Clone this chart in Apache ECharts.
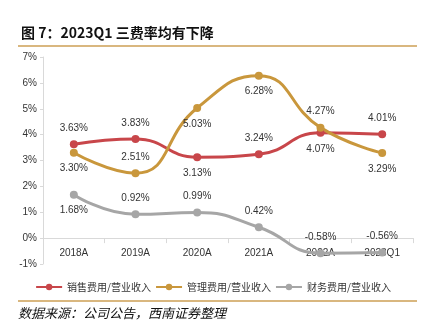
<!DOCTYPE html>
<html>
<head>
<meta charset="utf-8">
<script src="https://cdn.jsdelivr.net/npm/echarts@6/dist/echarts.min.js"></script>
<style>
  html, body { margin: 0; padding: 0; background: #fff; }
  #chart { width: 426px; height: 330px; }
</style>
</head>
<body>
<div id="chart"></div>
<script>
// Categories and expense ratios (%)
const categories = ['2018A', '2019A', '2020A', '2021A', '2022A', '2023Q1'];
const sellingRatio = [3.63, 3.83, 3.13, 3.24, 4.07, 4.01];
const adminRatio = [3.30, 2.51, 5.03, 6.28, 4.27, 3.29];
const financeRatio = [1.68, 0.92, 0.99, 0.42, -0.58, -0.56];
const seriesNames = ['销售费用/营业收入', '管理费用/营业收入', '财务费用/营业收入'];

// Label placement per point
const sellingPos = ['top', 'top', 'bottom', 'top', 'bottom', 'top'];
const adminPos = ['bottom', 'top', 'bottom', 'bottom', 'top', 'bottom'];
const financePos = ['bottom', 'top', 'top', 'top', 'top', 'top'];

const font = '"Liberation Sans", Arial, sans-serif';
const cjk = '"Noto Sans CJK SC", sans-serif';

function withLabels(values, positions) {
  return values.map((v, i) => ({
    value: v,
    label: { position: positions[i] }
  }));
}

function lineSeries(name, values, positions, color) {
  return {
    name: name,
    type: 'line',
    smooth: 0.5,
    symbol: 'circle',
    symbolSize: 8,
    data: withLabels(values, positions),
    lineStyle: { color: color, width: 3 },
    itemStyle: { color: color },
    label: {
      show: true,
      color: '#333',
      fontSize: 10,
      fontFamily: font,
      distance: 7,
      formatter: p => p.value.toFixed(2) + '%'
    }
  };
}

const chart = echarts.init(document.getElementById('chart'), null, { renderer: 'canvas' });
chart.setOption({
  animation: false,
  backgroundColor: '#fff',
  title: {
    text: '图 7：2023Q1 三费率均有下降',
    left: 16,
    top: 21,
    textStyle: { fontSize: 14, fontWeight: 'bold', color: '#111', fontFamily: cjk }
  },
  graphic: [
    { type: 'rect', shape: { x: 18, y: 45, width: 399, height: 2 }, style: { fill: '#d9b77f' } },
    { type: 'rect', shape: { x: 18, y: 300, width: 399, height: 2 }, style: { fill: '#d9b77f' } },
    {
      type: 'text', left: 18, top: 307,
      style: { text: '数据来源：公司公告，西南证券整理', font: 'italic 13px "Noto Sans CJK SC", sans-serif', fill: '#111' }
    }
  ],
  legend: {
    data: seriesNames,
    left: 'center',
    top: 277,
    itemWidth: 26,
    itemHeight: 8,
    itemGap: 4,
    textStyle: { fontSize: 10, color: '#333', fontFamily: cjk }
  },
  grid: { left: 43, right: 13, top: 57, bottom: 66 },
  xAxis: {
    type: 'category',
    data: categories,
    boundaryGap: true,
    axisLine: { onZero: true, lineStyle: { color: '#d9d9d9', width: 1 } },
    axisTick: { show: true, length: 5, lineStyle: { color: '#d9d9d9' } },
    axisLabel: { color: '#333', fontSize: 10, fontFamily: font, margin: -16 }
  },
  yAxis: {
    type: 'value',
    min: -1,
    max: 7,
    interval: 1,
    axisLine: { show: true, lineStyle: { color: '#d9d9d9' } },
    axisTick: { show: true, length: 3, lineStyle: { color: '#d9d9d9' } },
    splitLine: { show: false },
    axisLabel: { color: '#333', fontSize: 10, fontFamily: font, margin: 6, formatter: '{value}%' }
  },
  series: [
    lineSeries(seriesNames[0], sellingRatio, sellingPos, '#c8464a'),
    lineSeries(seriesNames[1], adminRatio, adminPos, '#c9973c'),
    lineSeries(seriesNames[2], financeRatio, financePos, '#a6a6a6')
  ]
});
</script>
</body>
</html>
